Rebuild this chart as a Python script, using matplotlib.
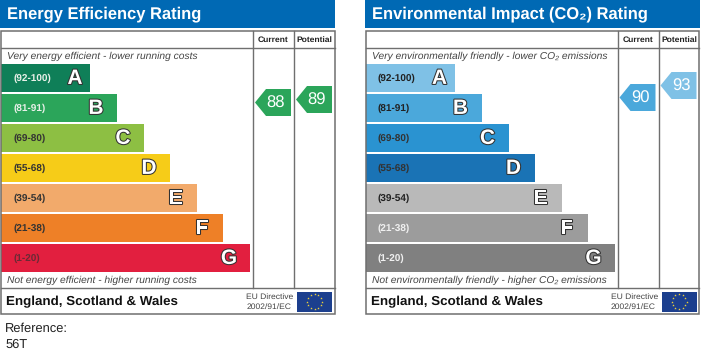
import numpy as np
import matplotlib
matplotlib.use("Agg")
import matplotlib.pyplot as plt
import matplotlib.patheffects as pe
from matplotlib.patches import Polygon, Rectangle

plt.rcParams['font.family'] = ['Liberation Sans', 'DejaVu Sans']
plt.rcParams['text.hinting'] = 'none'

letters = ["A", "B", "C", "D", "E", "F", "G"]
ranges = ["(92-100)", "(81-91)", "(69-80)", "(55-68)", "(39-54)", "(21-38)", "(1-20)"]
bar_lengths = [89, 116, 143, 169, 196, 222, 249]

energy_colors = ["#0f7f58", "#2ba55a", "#8dbf43", "#f6cc18", "#f2aa6b", "#ee8027", "#e21f3f"]
energy_label_colors = ["#e8f0e8", "#e8f0e8", "#333333", "#333333", "#333333", "#333333", "#6a2a35"]
energy_current = 88
energy_potential = 89

co2_colors = ["#7fc1e6", "#4ba8db", "#2a93d1", "#1a73b5", "#b9b9b9", "#9c9c9c", "#808080"]
co2_label_colors = ["#222222", "#222222", "#333333", "#333333", "#222222", "#f0f0f0", "#f0f0f0"]
co2_current = 90
co2_potential = 93

BLUE = "#0069b4"
GREY = "#6f6f6f"


def score_y(score, y88, px_per_point):
    return y88 - (score - 88) * px_per_point


def draw_pointer(ax, x, score, color, y88, px_per_point):
    """Arrow box with the score inside, x is the left tip"""
    y = score_y(score, y88, px_per_point)
    pts = [(x, y), (x + 11, y - 13.5), (x + 36, y - 13.5), (x + 36, y + 13.5), (x + 11, y + 13.5)]
    ax.add_patch(Polygon(pts, closed=True, fc=color, ec="none", zorder=3))
    ax.text(x + 21, y + 0.5, str(score), color="white", fontsize=12,
            ha="center", va="center", zorder=4)


def draw_flag(ax, x):
    ax.add_patch(Rectangle((x, 291.5), 35, 20, fc="#1c3f8e", ec="none"))
    angles = np.arange(12) * np.pi / 6
    ax.scatter(x + 17.5 + 7.5 * np.cos(angles), 301.5 + 7.5 * np.sin(angles),
               s=3.5, marker="*", color="#f2d43a", linewidths=0, zorder=3)


def draw_panel(ax, x0, title, top_text, bottom_text, colors, label_colors,
               current, potential, y88, px_per_point):
    ax.add_patch(Rectangle((x0 - 1, 0), 335.3, 28, fc=BLUE, ec="none"))
    ax.text(x0 + 6, 14.5, title, color="white", fontsize=11.9, fontweight="bold",
            ha="left", va="center")

    # frame and table lines
    ax.add_patch(Rectangle((x0, 30.5), 333.5, 283.5, fc="none", ec=GREY, lw=1.1, zorder=5))
    ax.plot([x0, x0 + 333.5], [47.5, 47.5], color=GREY, lw=1, zorder=5)
    ax.plot([x0, x0 + 333.5], [288, 288], color=GREY, lw=1, zorder=5)
    for dx in [252, 293]:
        ax.plot([x0 + dx, x0 + dx], [30.5, 288], color=GREY, lw=1, zorder=5)
    ax.text(x0 + 272.5, 39.5, "Current", color="#222222", fontsize=6.1, fontweight="bold",
            ha="center", va="center")
    ax.text(x0 + 313.5, 39.5, "Potential", color="#222222", fontsize=6.1, fontweight="bold",
            ha="center", va="center")

    ax.text(x0 + 6, 56, top_text, color="#444444", fontsize=7.4, style="italic",
            ha="left", va="center")
    ax.text(x0 + 6, 280, bottom_text, color="#444444", fontsize=7.4, style="italic",
            ha="left", va="center")

    y_pos = 78 + np.arange(len(letters)) * 30
    ax.barh(y_pos, bar_lengths, height=27.5, left=x0, color=colors, zorder=2)
    for i, (y, length) in enumerate(zip(y_pos, bar_lengths)):
        ax.text(x0 + 12, y, ranges[i], color=label_colors[i], fontsize=7.2, fontweight="bold",
                ha="left", va="center", zorder=3)
        # the A sits closer to the bar end than the other letters
        inset = 15 if i == 0 else 21
        ax.text(x0 + length - inset, y + 0.5, letters[i], color="white", fontsize=15,
                fontweight="bold", ha="center", va="center", zorder=3,
                path_effects=[pe.withStroke(linewidth=1.5, foreground="#333333")])

    draw_pointer(ax, x0 + 254, current, colors[1], y88, px_per_point)
    draw_pointer(ax, x0 + 295, potential, colors[1] if colors is energy_colors else colors[0],
                 y88, px_per_point)

    ax.text(x0 + 5.5, 301.5, "England, Scotland & Wales", color="#111111", fontsize=9.6,
            fontweight="bold", ha="left", va="center")
    ax.text(x0 + 245.5, 297, "EU Directive", color="#444444", fontsize=6.1, ha="left", va="center")
    ax.text(x0 + 245.5, 306.5, "2002/91/EC", color="#444444", fontsize=6.1, ha="left", va="center")
    draw_flag(ax, x0 + 296)


def main():
    fig = plt.figure(figsize=(7.06, 3.55), dpi=100)
    ax = fig.add_axes([0, 0, 1, 1])
    ax.set_xlim(0, 706)
    ax.set_ylim(355, 0)
    ax.axis("off")

    draw_panel(ax, 1, "Energy Efficiency Rating",
               "Very energy efficient - lower running costs",
               "Not energy efficient - higher running costs",
               energy_colors, energy_label_colors,
               energy_current, energy_potential, 102.5, 3)
    draw_panel(ax, 365.5, "Environmental Impact (CO\u2082) Rating",
               "Very environmentally friendly - lower CO\u2082 emissions",
               "Not environmentally friendly - higher CO\u2082 emissions",
               co2_colors, co2_label_colors,
               co2_current, co2_potential, 105.5, 4)

    ax.text(5, 328.5, "Reference:", color="#222222", fontsize=9.3, ha="left", va="center")
    ax.text(5, 345, "56T", color="#222222", fontsize=9.3, ha="left", va="center")

    fig.savefig("out.png", dpi=100)


if __name__ == "__main__":
    main()
